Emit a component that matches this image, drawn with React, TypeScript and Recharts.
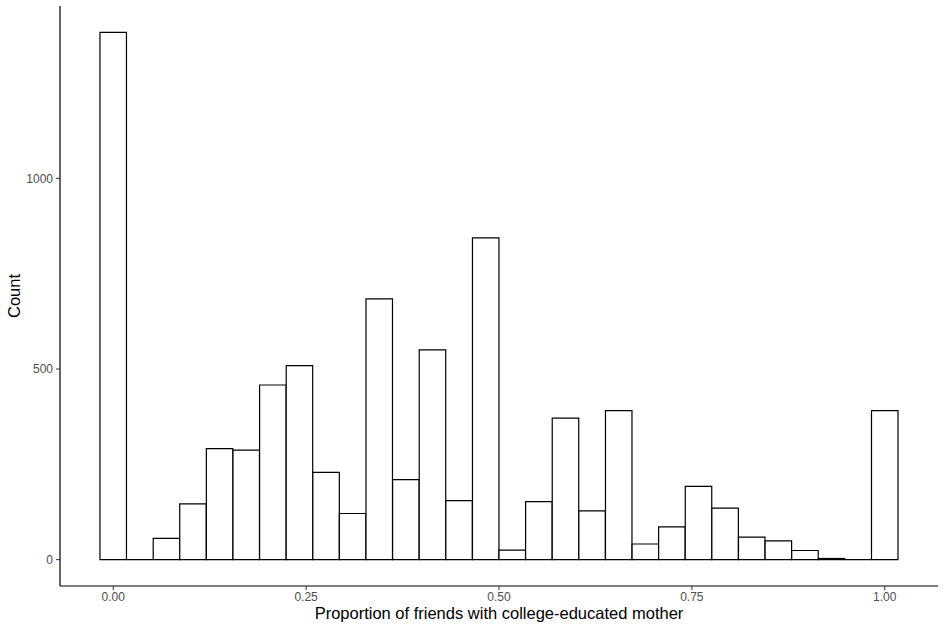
import { BarChart, Bar, XAxis, YAxis } from "recharts";

// histogram of 30 bins, width 1/29, centred on i/29
const binCenters = [
    0.0, 0.0345, 0.069, 0.1034, 0.1379, 0.1724, 0.2069, 0.2414, 0.2759, 0.3103,
    0.3448, 0.3793, 0.4138, 0.4483, 0.4828, 0.5172, 0.5517, 0.5862, 0.6207, 0.6552,
    0.6897, 0.7241, 0.7586, 0.7931, 0.8276, 0.8621, 0.8966, 0.931, 0.9655, 1.0,
];
const counts = [
    1383, 0, 56, 146, 291, 287, 458, 509, 229, 121,
    684, 210, 550, 155, 844, 25, 152, 371, 128, 391,
    41, 86, 192, 135, 59, 49, 24, 3, 0, 391,
];
const xTicks = [0, 0.25, 0.5, 0.75, 1];
const yTicks = [0, 500, 1000];

const data = binCenters.map((x, i) => ({ x, count: counts[i] }));

const FONT = "'Liberation Sans', Arial, Helvetica, sans-serif";

const HistBar = (props: any) => {
    const { x, y, width, height } = props;
    const d = `M${x},${y + height} L${x},${y} L${x + width},${y} L${x + width},${y + height} Z`;
    return <path d={d} fill="#fff" stroke="#000" strokeWidth={1.2} />;
};

const YTitle = ({ viewBox }: any) => {
    const cx = viewBox.x + 14;
    const cy = viewBox.y + viewBox.height / 2;
    return (
        <text
            x={cx}
            y={cy}
            transform={`rotate(-90, ${cx}, ${cy})`}
            textAnchor="middle"
            dominantBaseline="central"
            fontSize={16.5}
            fontFamily={FONT}
            fill="#000"
        >
            Count
        </text>
    );
};

export default function App() {
    return (
        <div style={{ position: "absolute", left: 0, top: 0, background: "#fff" }}>
            <BarChart
                width={945}
                height={629}
                data={data}
                margin={{ top: 6, right: 7, bottom: 0, left: 0 }}
                barCategoryGap={0}
            >
                <XAxis
                    dataKey="x"
                    type="number"
                    domain={[-0.069, 1.069]}
                    allowDataOverflow
                    ticks={xTicks}
                    tickFormatter={(v: number) => v.toFixed(2)}
                    height={43}
                    tickSize={4}
                    tickMargin={2}
                    axisLine={{ stroke: "#000", strokeWidth: 1.2 }}
                    tickLine={{ stroke: "#333" }}
                    tick={{ fill: "#4d4d4d", fontSize: 12, fontFamily: FONT }}
                    label={{
                        value: "Proportion of friends with college-educated mother",
                        position: "insideBottom",
                        offset: 10,
                        fill: "#000",
                        fontSize: 16.5,
                        fontFamily: FONT,
                    }}
                />
                <YAxis
                    type="number"
                    domain={[-69.15, 1452.15]}
                    allowDataOverflow
                    ticks={yTicks}
                    width={60}
                    tickSize={4}
                    tickMargin={3}
                    axisLine={{ stroke: "#000", strokeWidth: 1.2 }}
                    tickLine={{ stroke: "#333" }}
                    tick={{ fill: "#4d4d4d", fontSize: 12, fontFamily: FONT }}
                    label={{ content: <YTitle /> }}
                />
                <Bar
                    dataKey="count"
                    barSize={26.5}
                    shape={<HistBar />}
                    isAnimationActive={false}
                />
            </BarChart>
        </div>
    );
}
